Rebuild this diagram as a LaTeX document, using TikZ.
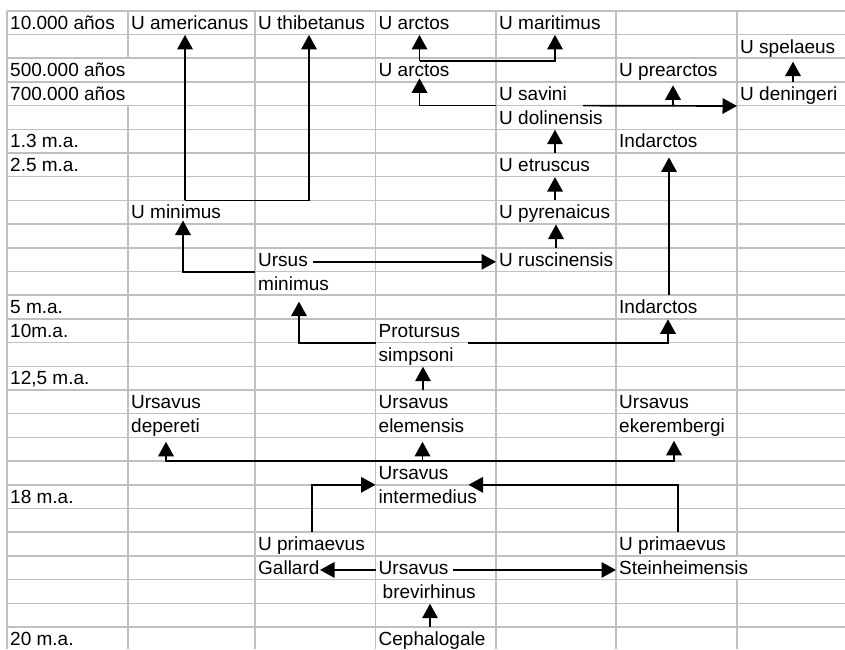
\documentclass[tikz,border=0pt]{standalone}
\usepackage{fontspec}
\setmainfont{Liberation Sans}
\usetikzlibrary{arrows.meta}
\definecolor{gridgray}{RGB}{192,192,192}

\begin{document}
\begin{tikzpicture}[x=1pt,y=-1pt,
    cell/.style={anchor=north west, inner xsep=3pt, inner ysep=0pt,
        minimum height=23.7pt, text height=16pt, text depth=3.1pt,
        font=\fontsize{19}{22}\selectfont},
    gridline/.style={line width=1.5pt, gridgray},
    arr/.style={line width=1.7pt, -{Triangle[length=14.5pt,width=15.5pt]}}]
    \useasboundingbox (0,0) rectangle (845,649);

    % sheet grid
    \foreach \r in {0,...,26}
        \draw[gridline] (7,{10.8+23.7*\r}) -- (845,{10.8+23.7*\r});
    \foreach \x in {7,255,375.5,496,616}
        \draw[gridline] (\x,10.8) -- (\x,649);
    \draw[gridline] (128,10.8) -- (128,58.2) (128,105.6) -- (128,649);
    \draw[gridline] (737,10.8) -- (737,555.9) (737,579.6) -- (737,649);

    % ages
    \node[cell] (y10k) at (7,10.8) {10.000 años};
    \node[cell] (y500k) at (7,58.2) {500.000 años};
    \node[cell] (y700k) at (7,81.9) {700.000 años};
    \node[cell] (ma1) at (7,129.3) {1.3 m.a.};
    \node[cell] (ma2) at (7,153.0) {2.5 m.a.};
    \node[cell] (ma5) at (7,295.2) {5 m.a.};
    \node[cell] (ma10) at (7,318.9) {10m.a.};
    \node[cell] (ma12) at (7,366.3) {12,5 m.a.};
    \node[cell] (ma18) at (7,484.8) {18 m.a.};
    \node[cell] (ma20) at (7,627.0) {20 m.a.};

    % species
    \node[cell] (uame) at (128,10.8) {U americanus};
    \node[cell] (uthi) at (255,10.8) {U thibetanus};
    \node[cell] (uarc) at (375.5,10.8) {U arctos};
    \node[cell] (umar) at (496,10.8) {U maritimus};
    \node[cell] (uspe) at (737,34.5) {U spelaeus};
    \node[cell] (uarc2) at (375.5,58.2) {U arctos};
    \node[cell] (upre) at (616,58.2) {U prearctos};
    \node[cell] (usav) at (496,81.9) {U savini};
    \node[cell] (uden) at (737,81.9) {U deningeri};
    \node[cell] (udol) at (496,105.6) {U dolinensis};
    \node[cell] (ind) at (616,129.3) {Indarctos};
    \node[cell] (uetr) at (496,153.0) {U etruscus};
    \node[cell] (umin) at (128,200.4) {U minimus};
    \node[cell] (upyr) at (496,200.4) {U pyrenaicus};
    \node[cell] (urs) at (255,247.8) {Ursus};
    \node[cell] (urus) at (496,247.8) {U ruscinensis};
    \node[cell] (ursmin) at (255,271.5) {minimus};
    \node[cell] (ind2) at (616,295.2) {Indarctos};
    \node[cell] (pro) at (375.5,318.9) {Protursus};
    \node[cell] (prosim) at (375.5,342.6) {simpsoni};
    \node[cell] (udep) at (128,390.0) {Ursavus};
    \node[cell] (uele) at (375.5,390.0) {Ursavus};
    \node[cell] (ueke) at (616,390.0) {Ursavus};
    \node[cell] (udep2) at (128,413.7) {depereti};
    \node[cell] (uele2) at (375.5,413.7) {elemensis};
    \node[cell] (ueke2) at (616,413.7) {ekerembergi};
    \node[cell] (uint) at (375.5,461.1) {Ursavus};
    \node[cell] (uint2) at (375.5,484.8) {intermedius};
    \node[cell] (upg) at (255,532.2) {U primaevus};
    \node[cell] (ups) at (616,532.2) {U primaevus};
    \node[cell] (upg2) at (255,555.9) {Gallard};
    \node[cell] (ubre) at (375.5,555.9) {Ursavus};
    \node[cell] (ups2) at (616,555.9) {Steinheimensis};
    \node[cell, xshift=4pt] (ubre2) at (375.5,579.6) {brevirhinus};
    \node[cell] (ceph) at (375.5,627.0) {Cephalogale};

    % lines of descent
    \coordinate (m1) at ([xshift=57pt]umin.north west);
    \draw[arr] (m1) -- (m1 |- uame.south);
    \draw[arr] (m1) -| ([xshift=54pt]uthi.south west);
    \draw[arr] (urs.south west) -| ([xshift=55pt,yshift=4pt]umin.south west);
    \draw[arr] ([xshift=58pt,yshift=-2pt]urs.west) -- ([yshift=-2pt]urus.west);
    \draw[arr] ([xshift=60pt]urus.north west) -- ([xshift=60pt]upyr.south west);
    \draw[arr] ([xshift=59pt]upyr.north west) -- ([xshift=59pt]uetr.south west);
    \draw[arr] ([xshift=59pt]uetr.north west) -- ([xshift=59pt]udol.south west);
    \draw[arr] (udol.north west) -| ([xshift=44pt,yshift=4pt]uarc2.south west);
    \draw[arr] ([xshift=87pt]udol.north west) -- (uden.south west);
    \coordinate (p1) at ([xshift=57pt]upre.south west);
    \draw[arr] (p1 |- udol.north) -- ([yshift=-3pt]p1);
    \coordinate (a1) at ([xshift=44pt,yshift=-3pt]uarc2.north west);
    \draw[arr] (a1) -- (a1 |- uarc.south);
    \draw[arr] (a1) -| ([xshift=59pt]umar.south west);
    \draw[arr] ([xshift=56pt]uden.north west) -- ([xshift=56pt,yshift=-3pt]uspe.south west);
    \draw[arr] ([xshift=53pt]ind2.north west) -- ([xshift=53pt,yshift=-4pt]ind.south west);
    \draw[arr] (pro.south west) -| ([xshift=44pt,yshift=-6pt]ursmin.south west);
    \draw[arr] ([xshift=92.5pt]pro.south west) -| ([xshift=52pt]ind2.south west);
    \draw[arr] ([xshift=47.5pt]uele.north west) -- ([xshift=47.5pt]prosim.south west);
    \coordinate (b1) at ([xshift=47pt]uint.north west);
    \draw[arr] (b1) -- ([xshift=47pt,yshift=-4pt]uele2.south west);
    \draw[arr] (b1) -| ([xshift=38pt,yshift=-4pt]udep2.south west);
    \draw[arr] (b1) -| ([xshift=58pt,yshift=-3pt]ueke2.south west);
    \draw[arr] ([xshift=57pt]upg.north west) |- (uint2.north west);
    \draw[arr] ([xshift=62pt]ups.north west) |- ([xshift=93pt]uint2.north west);
    \draw[arr] ([yshift=-2pt]ubre.west) -- ([xshift=65pt,yshift=-2pt]upg2.west);
    \draw[arr] ([xshift=77.5pt,yshift=-2pt]ubre.west) -- ([yshift=-2pt]ups2.west);
    \draw[arr] ([xshift=54.5pt]ceph.north west) -- ([xshift=50.5pt]ubre2.south west);
\end{tikzpicture}
\end{document}
